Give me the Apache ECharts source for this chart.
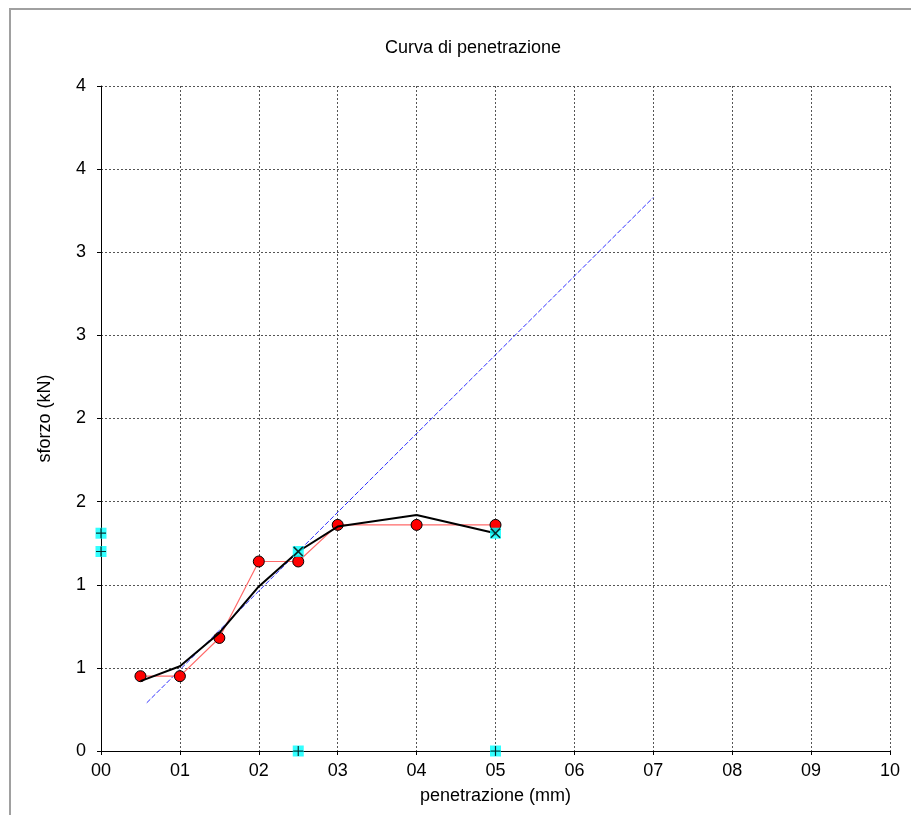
<!DOCTYPE html>
<html>
<head>
<meta charset="utf-8">
<script src="https://cdn.jsdelivr.net/npm/echarts@6/dist/echarts.min.js"></script>
<style>
html,body{margin:0;padding:0;background:#fff;}
#chart{width:911px;height:815px;}
</style>
</head>
<body>
<div id="chart"></div>
<script>
// penetration (mm)
var penetration = [0.5, 1, 1.5, 2, 2.5, 3, 4, 5];
// measured load (kN)
var measuredLoad = [0.45, 0.45, 0.68, 1.14, 1.14, 1.36, 1.36, 1.36];
// smoothed/fitted curve (kN)
var fittedLoad = [0.42, 0.51, 0.71, 0.99, 1.20, 1.35, 1.42, 1.31];
// tangent (correction) line endpoints
var tangentX = [0.58, 7.0];
var tangentY = [0.29, 3.33];
// reference points on the fitted curve at 2.5 and 5 mm
var refX = [2.5, 5];
var refY = [1.20, 1.31];
// projections of reference points onto the axes
var projX = [0, 0, 2.5, 5];
var projY = [1.31, 1.20, 0, 0];
// tick labels
var xTickLabels = ['00','01','02','03','04','05','06','07','08','09','10'];
var yTickLabels = ['0','1','1','2','2','3','3','4','4'];

function zip(a, b) { return a.map(function (v, i) { return [v, b[i]]; }); }

var FONT = 'Liberation Sans';
var plusPath = 'path://M0,4.4h10v1.2h-10z M4.4,0h1.2v10h-1.2z';

var chart = echarts.init(document.getElementById('chart'), null, {renderer: 'canvas'});
chart.setOption({
  animation: false,
  backgroundColor: '#fff',
  title: {
    text: 'Curva di penetrazione',
    left: 468, top: 34, textAlign: 'center',
    textStyle: {fontFamily: FONT, fontSize: 18, fontWeight: 'normal', color: '#000'}
  },
  graphic: [{
    type: 'rect', silent: true,
    shape: {x: 10, y: 9, width: 1000, height: 1000},
    style: {fill: 'none', stroke: '#a0a0a0', lineWidth: 2}
  }],
  grid: {left: 101, right: 21, top: 86, bottom: 64, containLabel: false},
  xAxis: {
    type: 'value', min: 0, max: 10, interval: 1,
    name: 'penetrazione (mm)', nameLocation: 'middle', nameGap: 36,
    nameTextStyle: {fontFamily: FONT, fontSize: 18, color: '#000'},
    axisLine: {show: true, onZero: false, lineStyle: {color: '#000', width: 1}},
    axisTick: {show: true, length: 4, lineStyle: {color: '#000'}},
    axisLabel: {
      fontFamily: FONT, fontSize: 18, color: '#000', margin: 11,
      formatter: function (v) { return xTickLabels[Math.round(v)]; }
    },
    splitLine: {show: true, lineStyle: {color: '#555', width: 1, type: [2, 2]}}
  },
  yAxis: {
    type: 'value', min: 0, max: 4, interval: 0.5,
    name: 'sforzo (kN)', nameLocation: 'middle', nameGap: 47,
    nameTextStyle: {fontFamily: FONT, fontSize: 18, color: '#000'},
    axisLine: {show: true, onZero: false, lineStyle: {color: '#000', width: 1}},
    axisTick: {show: true, length: 4, lineStyle: {color: '#000'}},
    axisLabel: {
      fontFamily: FONT, fontSize: 18, color: '#000', margin: 15,
      formatter: function (v) { return yTickLabels[Math.round(v * 2)]; }
    },
    splitLine: {show: true, lineStyle: {color: '#555', width: 1, type: [2, 2]}}
  },
  series: [
    {
      type: 'line', name: 'tangente',
      data: zip(tangentX, tangentY),
      showSymbol: false, symbol: 'none',
      lineStyle: {color: '#3030ff', width: 1, type: [5, 2]},
      z: 2
    },
    {
      type: 'line', name: 'misure',
      data: zip(penetration, measuredLoad),
      symbol: 'circle', symbolSize: 11,
      lineStyle: {color: '#ff6a6a', width: 1.2},
      itemStyle: {color: '#ff0000', borderColor: '#000', borderWidth: 1},
      z: 3
    },
    {
      type: 'line', name: 'curva',
      data: zip(penetration, fittedLoad),
      symbol: 'none',
      lineStyle: {color: '#000', width: 2},
      z: 4
    },
    {
      type: 'scatter', name: 'proiezioni bg', clip: false,
      data: zip(projX, projY).concat(zip(refX, refY)),
      symbol: 'rect', symbolSize: 11,
      itemStyle: {color: '#00ffff'},
      z: 5
    },
    {
      type: 'scatter', name: 'proiezioni', clip: false,
      data: zip(projX, projY),
      symbol: plusPath, symbolSize: 10,
      itemStyle: {color: '#000'},
      z: 6
    },
    {
      type: 'scatter', name: 'riferimenti', clip: false,
      data: zip(refX, refY),
      symbol: plusPath, symbolSize: 13, symbolRotate: 45,
      itemStyle: {color: '#000'},
      z: 6
    }
  ]
});
</script>
</body>
</html>
